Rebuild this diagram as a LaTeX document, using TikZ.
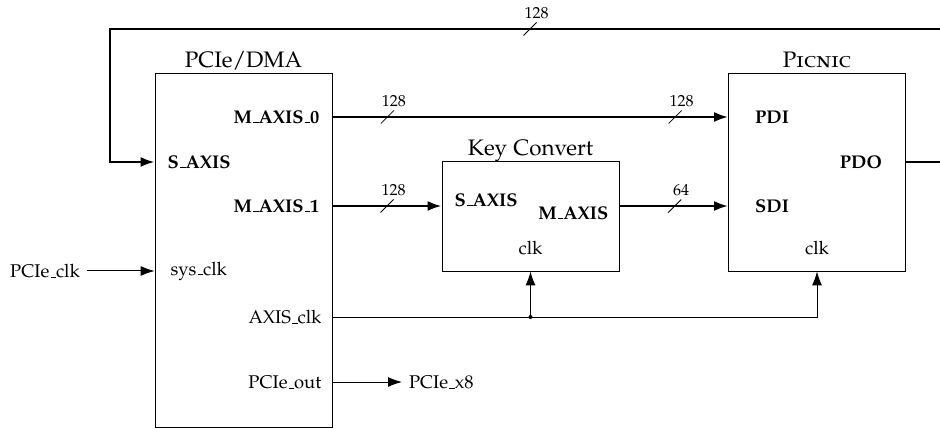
\documentclass[tikz,border=0pt]{standalone}
\usepackage[OT1]{fontenc}
\usepackage[sc]{mathpazo}
\usetikzlibrary{arrows.meta,positioning}

\tikzset{
  every node/.style={font=\fontsize{9.2}{11}\selectfont},
  blk/.style={draw, line width=0.4pt, minimum width=88.5pt, inner sep=0pt},
  ttl/.style={label={[font=\fontsize{11.2}{13}\selectfont, anchor=base, yshift=2.5pt]north:#1}},
  bus/.style={line width=1.2pt, -{Latex[length=7pt,width=5pt]}},
  sig/.style={line width=0.5pt, -{Latex[length=7pt,width=5pt]}},
  inl/.style={anchor=west, xshift=3pt},
  inr/.style={anchor=east, xshift=-3pt},
  port/.style={font=\fontsize{9.2}{11}\selectfont\bfseries},
}

\newcommand{\buswidth}[2]{%
  \draw[line width=0.4pt] (#1) ++(-0.13,-0.13) -- ++(0.26,0.26)
    node[above, inner sep=1.5pt, font=\footnotesize] {#2};}

\begin{document}
\begin{tikzpicture}[x=25pt, y=25pt]

   \useasboundingbox (0,0) rectangle (18.8,8.56);

   % blocks
   \node[blk, minimum height=177pt, ttl={PCIe/DMA}] (dma) at (4.87,3.56) {};
   \node[blk, minimum height=55pt, ttl={Key Convert}] (kc) at (10.61,4.24) {};
   \node[blk, minimum height=99pt, ttl={\textsc{Picnic}}] (pic) at (16.34,5.12) {};

   % ports
   \coordinate (dma-s)    at (dma.west |- 0,5.32);
   \coordinate (dma-clk)  at (dma.west |- 0,3.14);
   \coordinate (dma-m0)   at (dma.east |- 0,6.22);
   \coordinate (dma-m1)   at (dma.east |- 0,4.44);
   \coordinate (dma-aclk) at (dma.east |- 0,2.22);
   \coordinate (dma-pout) at (dma.east |- 0,0.92);
   \coordinate (kc-s)     at (kc.west |- dma-m1);
   \coordinate (kc-m)     at (kc.east |- dma-m1);
   \coordinate (pic-pdi)  at (pic.west |- dma-m0);
   \coordinate (pic-sdi)  at (pic.west |- dma-m1);
   \coordinate (pic-pdo)  at (pic.east |- dma-s);

   \node[port, inl] at (dma-s) {S\_AXIS};
   \node[inl, xshift=1.5pt] at (dma-clk) {sys\_clk};
   \node[port, inr] at (dma-m0) {M\_AXIS\_0};
   \node[port, inr] at (dma-m1) {M\_AXIS\_1};
   \node[inr, xshift=1pt] at (dma-aclk) {AXIS\_clk};
   \node[inr, xshift=1pt] at (dma-pout) {PCIe\_out};

   \node[port, inl] at (0,4.56 -| kc.west) {S\_AXIS};
   \node[port, inr, xshift=1pt] at (0,4.30 -| kc.east) {M\_AXIS};
   \node[above=5pt of kc.south] {clk};

   \node[port, inl, xshift=7pt] at (pic-pdi) {PDI};
   \node[port, inl, xshift=7pt] at (pic-sdi) {SDI};
   \node[port, inr, xshift=-5.5pt] at (pic-pdo) {PDO};
   \node[above=5pt of pic.south] {clk};

   % outside
   \node (clkin) at (0.9,3.14) {PCIe\_clk};
   \node[anchor=west] (x8) at (8.04,0.92) {PCIe\_x8};
   \coordinate (fbr) at (19.0,7.98);
   \coordinate (fbl) at (2.2,7.98);

   % data paths
   \draw[bus] (dma-m0) -- coordinate[pos=0.139] (w1) coordinate[pos=0.866] (w2) (pic-pdi);
   \draw[bus] (dma-m1) -- coordinate[pos=0.5] (w3) (kc-s);
   \draw[bus] (kc-m) -- coordinate[pos=0.509] (w4) (pic-sdi);
   \draw[bus] (pic-pdo) -| (fbr) -- coordinate[pos=0.5] (w5) (fbl) |- (dma-s);
   \buswidth{w1}{128}
   \buswidth{w2}{128}
   \buswidth{w3}{128}
   \buswidth{w4}{64}
   \buswidth{w5}{128}

   % clocks
   \draw[sig] (clkin) -- (dma-clk);
   \draw[sig] (dma-aclk) -| (pic.south);
   \draw[sig] (kc.south |- dma-aclk) -- (kc.south);
   \fill (kc.south |- dma-aclk) circle (1pt);
   \draw[sig] (dma-pout) -- (x8);

\end{tikzpicture}
\end{document}
